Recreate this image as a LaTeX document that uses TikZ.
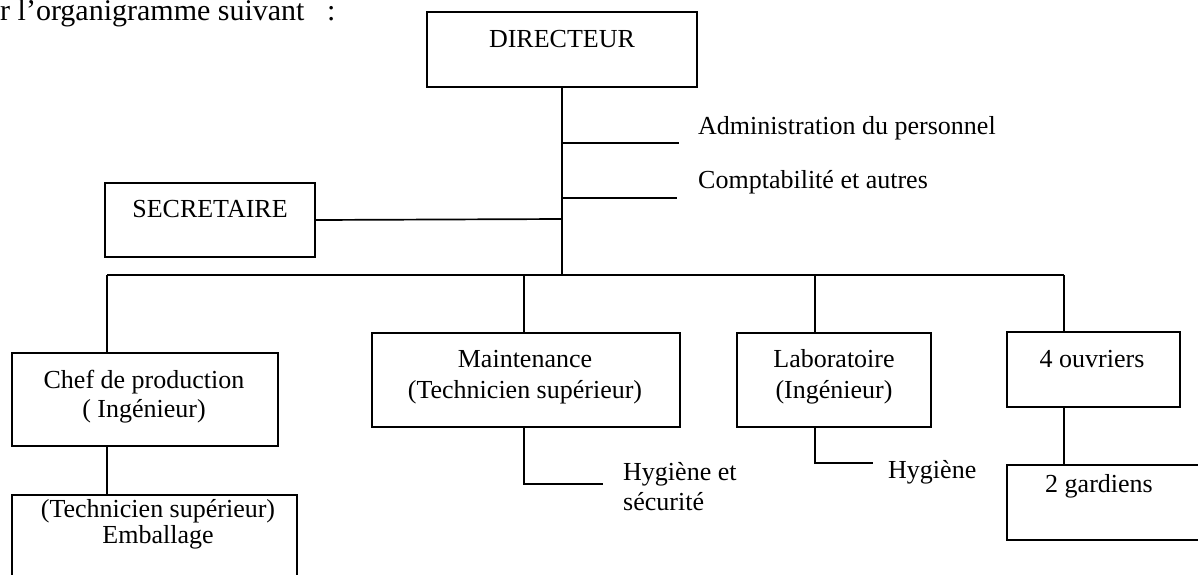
\documentclass[tikz,border=0pt]{standalone}
\usepackage{fontspec}
\setmainfont{Liberation Serif}
\begin{document}
\begin{tikzpicture}[x=1pt,y=-1pt,
  box/.style={draw,line width=1.7pt,rectangle,inner sep=0pt},
  txt/.style={inner sep=0pt,anchor=base,font=\fontsize{26}{30}\selectfont,align=center},
  ltxt/.style={inner sep=0pt,anchor=base west,font=\fontsize{26}{30}\selectfont,align=left},
  link/.style={line width=1.7pt}]
\useasboundingbox (0,0) rectangle (1198,574);
\clip (0,0) rectangle (1198,574);
\fill[white] (0,0) rectangle (1198,574);

% header line
\node[ltxt,font=\fontsize{30}{34}\selectfont] (head) at (0,20) {r l’organigramme suivant\hspace{0.75em}:};

% boxes
\node[box,minimum width=270pt,minimum height=75pt] (dir) at (562,49.5) {};
\node[box,minimum width=210pt,minimum height=74pt] (sec) at (210,220) {};
\node[box,minimum width=266pt,minimum height=93pt] (chef) at (145,399.5) {};
\node[box,minimum width=285pt,minimum height=110pt] (emb) at (154.5,550) {};
\node[box,minimum width=308pt,minimum height=94pt] (maint) at (526,380) {};
\node[box,minimum width=194pt,minimum height=94pt] (lab) at (834,380) {};
\node[box,minimum width=173pt,minimum height=75pt] (ouv) at (1093.5,369.5) {};
\node[box,minimum width=210pt,minimum height=75pt] (gard) at (1112,502.5) {};

% box texts (multi-line nodes sit on the baseline of their last line)
\node[txt] (tdir) at (562,47) {DIRECTEUR};
\node[txt] (tsec) at (210,217) {SECRETAIRE};
\node[txt] (tchef) at (144,417) {Chef de production\\[-1pt]( Ingénieur)};
\node[txt] (temb) at (158,543) {(Technicien supérieur)\\[-4pt]Emballage};
\node[txt] (tmaint) at (525,398) {Maintenance\\[1pt](Technicien supérieur)};
\node[txt] (tlab) at (834,398) {Laboratoire\\[1pt](Ingénieur)};
\node[txt] (touv) at (1092,367) {4 ouvriers};
\node[txt] (tgard) at (1099,492) {2 gardiens};

% side labels
\node[ltxt] (adm) at (698,134) {Administration du personnel};
\node[ltxt] (cpt) at (698,188) {Comptabilité et autres};
\node[ltxt] (hys) at (623,510) {Hygiène et\\sécurité};
\node[ltxt] (hyl) at (888,478) {Hygiène};

% junction points
\coordinate (bus) at (562,275);
\coordinate (jadm) at (562,143);
\coordinate (eadm) at (679,143);
\coordinate (jcpt) at (562,198);
\coordinate (ecpt) at (677,198);
\coordinate (jsec) at (562,219);
\coordinate (busL) at (107,275);
\coordinate (busR) at (1064,275);
\coordinate (hysE) at (603,484);
\coordinate (hylE) at (873,463);

% connectors
\draw[link] (dir.south) -- (bus);
\draw[link] (jadm) -- (eadm);
\draw[link] (jcpt) -- (ecpt);
\draw[link] (sec.east) -- (jsec);
\draw[link] (busL) -- (busR);
\draw[link] (busL) -- (busL |- chef.north);
\draw[link] (busL |- chef.south) -- (busL |- emb.north);
\draw[link] (524,275) -- (524,333);
\draw[link] (815,275) -- (815,333);
\draw[link] (busR) -- (busR |- ouv.north);
\draw[link] (busR |- ouv.south) -- (busR |- gard.north);
\draw[link] (524,427) |- (hysE);
\draw[link] (815,427) |- (hylE);
\end{tikzpicture}
\end{document}
